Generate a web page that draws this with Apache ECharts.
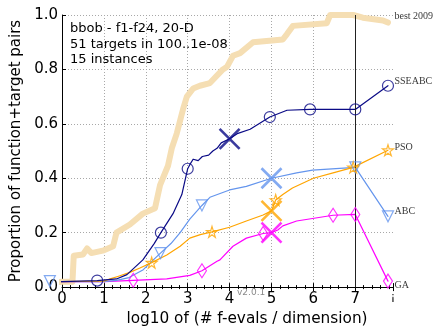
<!DOCTYPE html>
<html>
<head>
<meta charset="utf-8">
<script src="https://cdn.jsdelivr.net/npm/echarts@6/dist/echarts.min.js"></script>
<style>html,body{margin:0;padding:0;background:#fff}#c{width:436px;height:332px}</style>
</head>
<body>
<div id="c"></div>
<script>
// ---- data (x = log10 of #f-evals/dimension, y = proportion) ----
var best2009 = [[-1.35,0.01],[-0.5,0.012],[0,0.02],[0.25,0.02],[0.28,0.115],[0.5,0.12],[0.6,0.142],[0.7,0.125],[1.0,0.135],[1.22,0.15],[1.3,0.2],[1.62,0.23],[1.93,0.27],[2.22,0.29],[2.34,0.375],[2.53,0.446],[2.62,0.51],[2.74,0.565],[2.9,0.66],[2.98,0.7],[3.13,0.73],[3.29,0.74],[3.53,0.75],[3.84,0.80],[3.94,0.81],[4.08,0.85],[4.25,0.86],[4.56,0.90],[5.27,0.91],[5.37,0.93],[5.51,0.96],[6.32,0.97],[6.4,1.0],[6.95,1.0],[7.18,0.99],[7.66,0.98],[7.78,0.972]];
var sseabcLine = [[-1.35,0.018],[0,0.02],[0.84,0.024],[1.3,0.03],[1.55,0.046],[1.93,0.1],[2.2,0.16],[2.36,0.2],[2.65,0.27],[2.86,0.34],[3.0,0.435],[3.05,0.45],[3.13,0.47],[3.25,0.465],[3.35,0.48],[3.5,0.485],[3.6,0.5],[3.7,0.51],[3.8,0.53],[4.0,0.545],[4.2,0.565],[4.49,0.58],[4.96,0.625],[5.37,0.65],[5.92,0.653],[7.0,0.653],[7.78,0.74]];
var sseabcMarks = [[0.84,0.024],[2.36,0.2],[3.0,0.435],[4.96,0.625],[5.92,0.653],[7.0,0.653],[7.78,0.74]];
var abcLine = [[-1.35,0.018],[-0.29,0.022],[0,0.02],[1.0,0.02],[1.3,0.025],[1.6,0.035],[1.94,0.064],[2.18,0.1],[2.35,0.125],[2.6,0.16],[2.82,0.2],[3.05,0.25],[3.34,0.3],[3.53,0.33],[4.0,0.357],[4.4,0.37],[5.0,0.40],[5.6,0.42],[5.98,0.43],[7.0,0.44],[7.78,0.26]];
var abcMarks = [[-0.29,0.022],[2.35,0.125],[3.34,0.3],[7.0,0.44],[7.78,0.26]];
var psoLine = [[-1.35,0.018],[0,0.02],[1.0,0.022],[1.15,0.03],[1.35,0.04],[1.62,0.054],[1.86,0.07],[2.14,0.09],[2.5,0.118],[2.82,0.15],[3.05,0.18],[3.3,0.193],[3.58,0.203],[4.0,0.22],[4.4,0.243],[4.8,0.265],[5.0,0.28],[5.1,0.32],[5.27,0.34],[5.5,0.364],[6.0,0.40],[6.47,0.42],[6.95,0.44],[7.78,0.503]];
var psoMarks = [[2.14,0.09],[3.58,0.203],[5.1,0.32],[6.95,0.44],[7.78,0.503]];
var gaLine = [[-1.35,0.018],[0,0.02],[1.0,0.02],[1.7,0.025],[2.5,0.03],[3.05,0.043],[3.34,0.06],[3.7,0.095],[3.77,0.1],[4.08,0.15],[4.4,0.18],[4.8,0.197],[5.0,0.2],[5.15,0.21],[5.27,0.225],[5.6,0.243],[6.47,0.264],[7.0,0.267],[7.78,0.022]];
var gaMarks = [[1.7,0.025],[3.34,0.06],[4.8,0.197],[6.47,0.264],[7.0,0.267],[7.78,0.022]];
// big crosses
var sseabcCross = [[4.0,0.545]];
var abcCross = [[5.0,0.40]];
var psoCross = [[5.0,0.28]];
var gaCross = [[5.0,0.2]];
// end labels
var endNames = ['best 2009','SSEABC','PSO','ABC','GA'];
var endY = [0.996,0.757,0.514,0.279,0.007];
var endX = 7.9;
var xTicksMax = 7.9;
var yTickLabels = ['0.0','0.2','0.4','0.6','0.8','1.0'];
var infoText = ['bbob - f1-f24, 20-D','51 targets in 100..1e-08','15 instances'];

var C_SSE = '#0a0a86', C_ABC = '#6495ED', C_PSO = '#FFA500', C_GA = '#FF00FF', C_BEST = '#F5DEB3';
var STAR = 'path://M50,0 L61,35 L98,35 L68,57 L79,91 L50,70 L21,91 L32,57 L2,35 L39,35 Z';
var CROSS = 'path://M0,0 L10,10 M10,0 L0,10';

function lineS(data, color, w, z) {
  return {type:'line', data:data, showSymbol:false, symbol:'none', clip:false, z:z,
    lineStyle:{color:color, width:w, join:'round', cap:'round'}, silent:true, animation:false};
}
function markS(data, color, symbol, size, rotate, bw) {
  return {type:'scatter', data:data, symbol:symbol, symbolSize:size, symbolRotate:rotate||0, clip:false, z:5,
    itemStyle:{color:'rgba(0,0,0,0)', borderColor:color, borderWidth:bw||1.2}, silent:true, animation:false};
}

var series = [
  lineS(best2009, C_BEST, 6, 1),
  lineS(gaLine, C_GA, 1.2, 2),
  lineS(abcLine, C_ABC, 1.2, 2),
  lineS(psoLine, C_PSO, 1.2, 2),
  lineS(sseabcLine, C_SSE, 1.2, 3),
  markS(sseabcMarks, C_SSE, 'circle', 11),
  markS(abcMarks, C_ABC, 'triangle', 11, 180),
  markS(psoMarks, C_PSO, STAR, 11),
  markS(gaMarks, C_GA, 'diamond', [9,14]),
  markS(sseabcCross, C_SSE, CROSS, 20, 0, 2.6),
  markS(abcCross, C_ABC, CROSS, 20, 0, 2.6),
  markS(psoCross, C_PSO, CROSS, 20, 0, 2.6),
  markS(gaCross, C_GA, CROSS, 20, 0, 2.6),
  {type:'scatter', symbolSize:1, clip:false, z:6, silent:true, animation:false,
   itemStyle:{color:'rgba(0,0,0,0)'},
   data: endNames.map(function(n,i){return {name:n, value:[endX, endY[i]]};}),
   label:{show:true, position:'right', distance:1, formatter:'{b}', color:'#000',
     fontFamily:'Liberation Serif', fontSize:10}},
  {type:'line', data:[], markLine:{silent:true, symbol:'none', animation:false, label:{show:false},
     lineStyle:{color:'#222', width:1, type:'solid'}, data:[{xAxis:7}]}}
];

var gridCol = '#a8a8a8';
var splitCols = [];
for (var i=0;i<8;i++) splitCols.push(gridCol);
splitCols.push('rgba(0,0,0,0)');

var chart = echarts.init(document.getElementById('c'), null, {renderer:'canvas'});
chart.setOption({
  animation:false,
  backgroundColor:'#fff',
  title:[
    {text: infoText.join('\n'), left:65, top:16,
     textStyle:{fontFamily:'DejaVu Sans', fontSize:13, fontWeight:'normal', color:'#000', lineHeight:15.5}},
    {text:'v2.0.1', left:232, top:283, textStyle:{fontFamily:'DejaVu Sans', fontSize:9, fontWeight:'normal', color:'#8a8a8a'}}
  ],
  grid:{left:62, right:43, top:15, bottom:37},
  xAxis:[{
    type:'value', min:0, max:xTicksMax, interval:1,
    name:'log10 of (# f-evals / dimension)', nameLocation:'middle', nameGap:24,
    nameTextStyle:{fontFamily:'DejaVu Sans', fontSize:15.3, color:'#000', padding:[0,0,0,39]},
    axisLine:{show:true, onZero:false, lineStyle:{color:'#000', width:1}},
    axisTick:{show:true, inside:true, length:4, lineStyle:{color:'#000'}},
    minorTick:{show:true, splitNumber:5, length:2, lineStyle:{color:'#000'}},
    axisLabel:{fontFamily:'DejaVu Sans', fontSize:15, color:'#000', margin:5,
      rich:{s:{fontSize:11, fontFamily:'DejaVu Sans', color:'#000'}},
      formatter:function(v){ return Math.abs(v-xTicksMax)<1e-6 ? '{s|\u00a1}' : String(v); }},
    splitLine:{show:true, lineStyle:{color:splitCols, type:[1,2], width:1}}
  },{
    type:'value', position:'top', min:0, max:xTicksMax, interval:1,
    axisLine:{show:false}, axisLabel:{show:false}, splitLine:{show:false},
    axisTick:{show:true, inside:true, length:4, lineStyle:{color:'#000'}},
    minorTick:{show:true, splitNumber:5, length:2, lineStyle:{color:'#000'}}
  }],
  yAxis:{
    type:'value', min:0, max:1, interval:0.2,
    name:'Proportion of function+target pairs', nameLocation:'middle', nameGap:36,
    nameTextStyle:{fontFamily:'DejaVu Sans', fontSize:15, color:'#000'},
    axisLine:{show:true, lineStyle:{color:'#000', width:1}},
    axisTick:{show:true, inside:true, length:4, lineStyle:{color:'#000'}},
    axisLabel:{fontFamily:'DejaVu Sans', fontSize:15, color:'#000', margin:4,
      formatter:function(v){ return yTickLabels[Math.round(v/0.2)]; }},
    splitLine:{show:true, lineStyle:{color:gridCol, type:[1,2], width:1}}
  },
  series: series
});
</script>
</body>
</html>
